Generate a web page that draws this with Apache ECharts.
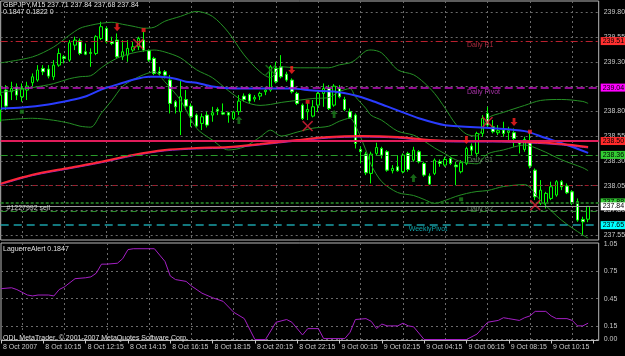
<!DOCTYPE html>
<html>
<head>
<meta charset="utf-8">
<title>GBPJPY,M15</title>
<script src="https://cdn.jsdelivr.net/npm/echarts@6.0.0/dist/echarts.min.js"></script>
<style>
  html, body { margin: 0; padding: 0; background: #000; }
  #chart { width: 625px; height: 356px; }
</style>
</head>
<body>
<div id="chart"></div>
<script>
const font = "Liberation Sans";
const textGray = "#c8c8c8";
const gridGray = "#6a6a6a";

// M15 bars from 8 Oct 08:15, two empty slots kept on the right like the terminal does
const barCount = 114;
const bars = Array.from({ length: barCount }, (_, i) => i);
const timeLabels = [
  "8 Oct 2007", "8 Oct 10:15", "8 Oct 12:15", "8 Oct 14:15", "8 Oct 16:15",
  "8 Oct 18:15", "8 Oct 20:15", "8 Oct 22:15", "9 Oct 00:15", "9 Oct 02:15",
  "9 Oct 04:15", "9 Oct 06:15", "9 Oct 08:15", "9 Oct 10:15",
];

const opens = [
  238.813, 239.015, 238.998, 239.042, 238.947, 239.015, 239.089, 239.116, 239.234, 239.227,
  239.149, 239.267, 239.351, 239.318, 239.469, 239.513, 239.402, 239.385, 239.385, 239.537,
  239.638, 239.503, 239.520, 239.351, 239.368, 239.419, 239.452, 239.520, 239.412, 239.335,
  239.200, 239.200, 239.116, 238.897, 238.796, 238.920, 238.853, 238.762, 238.678, 238.762,
  238.762, 238.819, 238.786, 238.786, 238.728, 238.796, 238.954, 238.971, 238.924, 238.954,
  238.998, 239.015, 239.234, 239.250, 239.176, 239.116, 238.981, 238.863, 238.796, 238.752,
  238.863, 238.981, 239.031, 238.863, 239.031, 238.920, 238.796, 238.762, 238.415, 238.368,
  238.173, 238.375, 238.425, 238.392, 238.200, 238.240, 238.190, 238.375, 238.307, 238.392,
  238.274, 238.146, 238.173, 238.291, 238.257, 238.324, 238.257, 238.190, 238.274, 238.449,
  238.375, 238.577, 238.779, 238.644, 238.584, 238.611, 238.587, 238.584, 238.483, 238.415,
  238.493, 238.206, 237.870, 237.870, 237.920, 237.954, 238.089, 238.045, 237.987, 237.886,
  237.708, 237.71,
];
const closes = [
  238.964, 238.853, 239.031, 238.964, 239.031, 239.055, 239.149, 239.217, 239.200, 239.156,
  239.267, 239.385, 239.335, 239.493, 239.520, 239.385, 239.378, 239.395, 239.554, 239.655,
  239.503, 239.486, 239.351, 239.402, 239.436, 239.452, 239.537, 239.419, 239.318, 239.183,
  239.183, 239.166, 238.880, 238.846, 238.947, 238.853, 238.745, 238.651, 238.745, 238.661,
  238.786, 238.803, 238.772, 238.762, 238.792, 238.904, 238.920, 238.904, 238.941, 238.981,
  239.015, 239.250, 239.099, 239.149, 239.116, 238.998, 238.880, 238.728, 238.819, 238.846,
  238.981, 239.031, 238.829, 239.055, 238.947, 238.819, 238.739, 238.476, 238.392, 238.179,
  238.368, 238.435, 238.358, 238.206, 238.223, 238.200, 238.358, 238.213, 238.408, 238.291,
  238.156, 238.065, 238.307, 238.274, 238.314, 238.274, 238.240, 238.281, 238.425, 238.408,
  238.577, 238.728, 238.661, 238.594, 238.604, 238.577, 238.604, 238.526, 238.469, 238.516,
  238.247, 237.937, 238.004, 237.971, 238.038, 238.089, 238.038, 237.977, 237.870, 237.701,
  237.684, 237.84,
];
const lows = [
  238.695, 238.813, 238.914, 238.914, 238.897, 238.914, 239.055, 239.099, 239.166, 239.133,
  239.116, 239.250, 239.284, 239.301, 239.419, 239.368, 239.368, 239.250, 239.368, 239.520,
  239.486, 239.469, 239.335, 239.318, 239.301, 239.402, 239.419, 239.402, 239.301, 239.166,
  239.166, 239.133, 238.779, 238.779, 238.560, 238.813, 238.644, 238.637, 238.611, 238.637,
  238.695, 238.762, 238.762, 238.685, 238.712, 238.762, 238.897, 238.880, 238.897, 238.914,
  238.964, 238.998, 239.082, 239.133, 239.099, 238.981, 238.863, 238.712, 238.712, 238.739,
  238.796, 238.846, 238.813, 238.846, 238.931, 238.803, 238.728, 238.425, 238.274, 238.156,
  238.072, 238.358, 238.324, 238.190, 238.173, 238.190, 238.173, 238.190, 238.291, 238.274,
  238.139, 238.055, 238.156, 238.240, 238.240, 238.257, 238.055, 238.173, 238.257, 238.358,
  238.341, 238.543, 238.627, 238.577, 238.560, 238.543, 238.510, 238.442, 238.375, 238.392,
  238.223, 237.903, 237.853, 237.819, 237.903, 237.937, 238.004, 237.964, 237.853, 237.684,
  237.550, 237.68,
];
const highs = [
  239.048, 239.065, 239.099, 239.082, 239.082, 239.099, 239.183, 239.267, 239.267, 239.267,
  239.318, 239.436, 239.368, 239.520, 239.554, 239.537, 239.486, 239.436, 239.570, 239.705,
  239.655, 239.554, 239.587, 239.520, 239.520, 239.503, 239.554, 239.604, 239.426, 239.351,
  239.250, 239.217, 239.166, 238.914, 239.116, 239.015, 238.880, 238.779, 238.779, 238.796,
  238.846, 238.840, 238.880, 238.796, 238.806, 238.964, 238.981, 238.981, 238.964, 238.998,
  239.031, 239.267, 239.301, 239.368, 239.200, 239.133, 238.998, 238.880, 238.880, 238.914,
  238.998, 239.082, 239.065, 239.075, 239.065, 238.947, 238.829, 238.779, 238.442, 238.392,
  238.392, 238.483, 238.442, 238.408, 238.257, 238.358, 238.375, 238.392, 238.442, 238.408,
  238.291, 238.173, 238.324, 238.314, 238.341, 238.341, 238.291, 238.307, 238.442, 238.476,
  238.594, 238.762, 238.846, 238.712, 238.661, 238.695, 238.644, 238.627, 238.510, 238.543,
  238.594, 238.223, 238.105, 237.987, 238.089, 238.105, 238.105, 238.072, 238.004, 237.920,
  237.735, 237.84,
];

// Bollinger bands and moving averages, [bar, price]
const bbUpper = [
  [0, 239.29], [6, 239.35], [10, 239.45], [13, 239.57], [15, 239.64], [17, 239.67], [19, 239.69],
  [21, 239.70], [23, 239.68], [25, 239.66], [27, 239.64], [29, 239.65], [31, 239.71], [34, 239.76],
  [37, 239.81], [40, 239.76], [43, 239.60], [46, 239.37], [49, 239.20], [51, 239.14], [53, 239.25],
  [56, 239.24], [59, 239.24], [62, 239.24], [64, 239.27], [66, 239.29], [67, 239.32], [69, 239.41],
  [70, 239.42], [72, 239.39], [75, 239.22], [78, 239.17], [80, 239.09], [82, 238.98], [84, 238.83],
  [86, 238.67], [88, 238.57], [90, 238.55], [92, 238.73], [95, 238.79], [99, 238.86], [102, 238.91],
  [106, 238.92], [110, 238.90], [111, 238.88],
];
const bbMiddle = [
  [0, 238.99], [6, 239.04], [10, 239.08], [13, 239.13], [15, 239.15], [17, 239.16], [19, 239.24],
  [21, 239.31], [23, 239.36], [25, 239.39], [27, 239.41], [29, 239.42], [31, 239.40], [34, 239.34],
  [37, 239.22], [40, 239.14], [43, 239.01], [46, 238.90], [49, 238.86], [51, 238.87], [53, 238.89],
  [56, 238.91], [59, 238.93], [62, 238.94], [64, 239.00], [66, 239.03], [67, 238.95], [69, 238.83],
  [70, 238.76], [72, 238.71], [75, 238.60], [78, 238.56], [80, 238.50], [82, 238.43], [84, 238.37],
  [86, 238.31], [88, 238.28], [90, 238.27], [92, 238.37], [95, 238.41], [99, 238.46], [102, 238.41],
  [106, 238.31], [110, 238.23], [111, 238.20],
];
const bbLower = [
  [0, 238.71], [6, 238.73], [10, 238.71], [13, 238.68], [15, 238.65], [17, 238.64], [19, 238.78],
  [21, 238.91], [23, 239.05], [25, 239.12], [27, 239.17], [29, 239.20], [31, 239.10], [34, 238.91],
  [37, 238.63], [40, 238.51], [43, 238.41], [46, 238.44], [49, 238.54], [51, 238.61], [53, 238.55],
  [56, 238.59], [59, 238.63], [62, 238.65], [64, 238.70], [66, 238.73], [67, 238.66], [69, 238.41],
  [70, 238.26], [72, 238.09], [75, 237.98], [78, 237.95], [80, 237.91], [82, 237.87], [84, 237.90],
  [86, 237.94], [88, 237.97], [90, 237.99], [92, 238.00], [95, 238.04], [99, 238.06], [102, 237.90],
  [106, 237.70], [110, 237.55], [111, 237.52],
];
const maBlue = [
  [0, 238.83], [4, 238.84], [9, 238.87], [13, 238.91], [16, 238.95], [19, 239.02], [22, 239.07],
  [25, 239.12], [28, 239.15], [30, 239.15], [33, 239.13], [35, 239.10], [37, 239.09], [40, 239.05],
  [44, 239.03], [50, 239.03], [55, 239.03], [59, 239.01], [63, 239.00], [67, 238.96], [70, 238.91],
  [73, 238.85], [75, 238.81], [79, 238.73], [84, 238.66], [93, 238.63], [99, 238.60], [103, 238.53],
  [107, 238.46], [111, 238.38],
];
const maRed = [
  [0, 238.07], [6, 238.16], [13, 238.23], [19, 238.29], [25, 238.36], [31, 238.41], [37, 238.43],
  [43, 238.44], [49, 238.47], [56, 238.51], [62, 238.54], [68, 238.55], [75, 238.54], [81, 238.51],
  [87, 238.50], [93, 238.50], [100, 238.49], [106, 238.47], [111, 238.44],
];
const maPurple = [
  [0, 238.06], [6, 238.15], [13, 238.22], [19, 238.28], [25, 238.35], [31, 238.40], [37, 238.42],
  [43, 238.43], [49, 238.46], [56, 238.50], [62, 238.53], [68, 238.54], [75, 238.53], [81, 238.50],
  [87, 238.49], [93, 238.49], [100, 238.48], [106, 238.46], [111, 238.43],
];

// LaguerreAlert sub window
const laguerre = [
  [0, 0.56], [2, 0.57], [3, 0.55], [5, 0.49], [6, 0.48], [7, 0.49], [9, 0.49], [10, 0.48], [11, 0.55],
  [12, 0.58], [14, 0.67], [16, 0.68], [17, 0.69], [18, 0.73], [19, 0.83], [20, 0.83], [22, 0.84],
  [23, 0.89], [24, 0.99], [25, 1.0], [29, 1.0], [30, 0.93], [31, 0.86], [32, 0.70], [33, 0.66],
  [35, 0.64], [36, 0.59], [38, 0.51], [40, 0.46], [42, 0.42], [44, 0.30], [46, 0.23], [48, 0.0],
  [50, 0.0], [52, 0.19], [54, 0.22], [55, 0.19], [57, 0.05], [58, 0.12], [60, 0.12], [61, 0.01],
  [65, 0.01], [66, 0.08], [67, 0.22], [69, 0.23], [70, 0.20], [71, 0.12], [72, 0.17], [73, 0.15],
  [75, 0.15], [76, 0.18], [77, 0.15], [78, 0.14], [80, 0.0], [88, 0.0], [90, 0.06], [92, 0.19],
  [94, 0.21], [95, 0.24], [96, 0.23], [98, 0.21], [99, 0.24], [100, 0.26], [101, 0.31], [103, 0.31],
  [104, 0.26], [105, 0.23], [107, 0.23], [108, 0.21], [109, 0.15], [110, 0.15], [111, 0.18],
];

const priceTicks = [239.80, 239.55, 239.30, 239.05, 238.80, 238.55, 238.30, 238.05, 237.80, 237.55];
const lagTicks = [1.05, 0.75, 0.45, 0.15, 0];
const lagTickLabels = ["1.05", "0.75", "0.45", "0.15", "0.00"];

// horizontal objects: R1, pivot, order, S1, ..., weekly pivot
const levelPrices = [239.51, 239.04, 238.50, 238.36, 238.05, 237.88, 237.84, 237.79, 237.65];

// signal arrows and marks, [bar, price]
const downArrows = [[22, 239.651], [55, 239.217], [88, 238.510], [97, 238.692]];
const upArrows = [[45, 238.712], [63, 238.773], [78, 238.126]];
const redSquares = [[27, 239.621], [58, 238.897], [100, 238.594]];
const greenSquares = [[4, 238.796], [87, 237.911]];
const redCrosses = [[26, 239.480], [58, 238.651], [92, 238.692], [101, 237.853]];
const greenCrosses = [[51, 239.217]];

const noteTexts = ["Daily R1", "Daily Pivot", "Daily S1", "Daily S2", "WeeklyPivot", "#1227992 sell"];
const notePoints = [[88, 239.47], [88, 238.995], [88, 238.31], [88, 237.815], [77, 237.61], [1, 237.82]];

const levelStyles = [
  { color: "#b8202e", type: [7, 3, 2, 3], width: 1, tag: "#ff3030" },
  { color: "#c010c0", type: [8, 4], width: 1.5, tag: "#ff00ff" },
  { color: "#e01c5a", type: "solid", width: 2, tag: "#ff2a2a" },
  { color: "#2a9a2a", type: [7, 3, 2, 3], width: 1, tag: "#33cc33" },
  { color: "#a01a2a", type: [4, 4], width: 1 },
  { color: "#1f6f1f", type: [3, 2], width: 2, tag: "#33cc33" },
  { color: "#9a9a9a", type: "solid", width: 1, tag: "#ffffff" },
  { color: "#2a8a2a", type: [6, 4], width: 1 },
  { color: "#1aa0a8", type: [8, 5], width: 1.5, tag: "#00ffff" },
];
const noteColors = ["#d0344e", "#d040d0", "#6a9a6a", "#7a9a7a", "#10c8d0", "#f0f0f0"];

const smallText = { fontSize: 7, fontFamily: font };

function bandLine (data, color, width) {
  return {
    type: "line",
    xAxisIndex: 0,
    yAxisIndex: 0,
    data,
    smooth: 0.3,
    showSymbol: false,
    silent: true,
    lineStyle: { color, width },
  };
}

function marks (data, symbol, size, color) {
  return {
    type: "scatter",
    xAxisIndex: 0,
    yAxisIndex: 0,
    data,
    symbol,
    symbolSize: size,
    itemStyle: { color },
    silent: true,
    z: 6,
  };
}

const arrowDown = "path://M3,0 L7,0 L7,5 L10,5 L5,10 L0,5 L3,5 Z";
const arrowUp = "path://M5,0 L10,5 L7,5 L7,10 L3,10 L3,5 L0,5 Z";
const cross = "path://M0,1 L1,0 L5,4 L9,0 L10,1 L6,5 L10,9 L9,10 L5,6 L1,10 L0,9 L4,5 Z";

const chart = echarts.init(document.getElementById("chart"));

const option = {
  backgroundColor: "#000",
  animation: false,
  grid: [
    { left: 0.7, top: 1, width: 598, height: 239, show: true, borderColor: "#b8b8b8", borderWidth: 1 },
    { left: 0.7, top: 243, width: 598, height: 97.5, show: true, borderColor: "#b8b8b8", borderWidth: 1 },
  ],
  xAxis: [0, 1].map((g) => ({
    type: "category",
    gridIndex: g,
    data: bars,
    boundaryGap: false,
    axisLine: { show: false },
    axisTick: {
      show: g === 1,
      interval: (i) => i % 8 === 0,
      length: 4,
      lineStyle: { color: textGray },
    },
    axisLabel: {
      show: g === 1,
      interval: (i) => i % 8 === 0,
      formatter: (v, i) => timeLabels[i / 8] || "",
      align: "left",
      margin: 3,
      padding: [0, 0, 0, 2],
      color: textGray,
      ...smallText,
    },
    splitLine: {
      show: true,
      interval: (i) => i % 8 === 4,
      lineStyle: { color: gridGray, type: [2, 3], width: 1 },
    },
  })),
  yAxis: [
    { type: "value", gridIndex: 0, min: 237.50, max: 239.915, show: false },
    { type: "value", gridIndex: 1, min: -0.011, max: 1.063, show: false },
  ],
  series: [
    // price grid + scale
    {
      type: "line",
      xAxisIndex: 0,
      yAxisIndex: 0,
      data: [],
      markLine: {
        z: 1,
        silent: true,
        symbol: "none",
        lineStyle: { color: gridGray, type: [2, 3], width: 1 },
        label: { position: "end", distance: 5, color: textGray, ...smallText },
        data: priceTicks.map((v) => ({ yAxis: v, label: { formatter: v.toFixed(2) } })),
      },
    },
    {
      type: "line",
      xAxisIndex: 1,
      yAxisIndex: 1,
      data: [],
      markLine: {
        z: 1,
        silent: true,
        symbol: "none",
        lineStyle: { color: gridGray, type: [2, 3], width: 1 },
        label: { position: "end", distance: 5, color: textGray, ...smallText },
        data: lagTicks.map((v, i) => ({
          yAxis: v,
          label: { formatter: lagTickLabels[i] },
          lineStyle: i === 0 ? { color: "rgba(0,0,0,0)" } : {},
        })),
      },
    },
    {
      type: "candlestick",
      xAxisIndex: 0,
      yAxisIndex: 0,
      barWidth: 3,
      silent: true,
      data: opens.map((o, i) => [o, closes[i], lows[i], highs[i]]),
      itemStyle: {
        color: "#000",
        color0: "#fff",
        borderColor: "#00ff00",
        borderColor0: "#00ff00",
        borderWidth: 1,
      },
    },
    bandLine(bbUpper, "#258f25", 1),
    bandLine(bbMiddle, "#258f25", 1),
    bandLine(bbLower, "#258f25", 1),
    bandLine(maBlue, "#2a3cff", 2),
    bandLine(maPurple, "#9a28c8", 1),
    bandLine(maRed, "#ff2638", 2),
    // levels
    {
      type: "line",
      xAxisIndex: 0,
      yAxisIndex: 0,
      data: [],
      markLine: {
        z: 5,
        silent: true,
        symbol: "none",
        data: levelPrices.map((p, i) => {
          const s = levelStyles[i];
          return {
            yAxis: p,
            lineStyle: { color: s.color, type: s.type, width: s.width },
            label: s.tag
              ? {
                  show: true,
                  position: "end",
                  distance: 2,
                  formatter: p.toFixed(2),
                  color: "#000",
                  backgroundColor: s.tag,
                  padding: [1, 2, 0, 2],
                  ...smallText,
                }
              : { show: false },
          };
        }),
      },
    },
    marks(downArrows, arrowDown, [7, 8], "#ff2020"),
    marks(upArrows, arrowUp, [7, 8], "#1d7f1d"),
    marks(redSquares, "rect", 4, "#ff2020"),
    marks(greenSquares, "rect", 4, "#1d7f1d"),
    marks(redCrosses, cross, 11, "#e0203a"),
    marks(greenCrosses, cross, 11, "#1d6f1d"),
    {
      type: "scatter",
      xAxisIndex: 0,
      yAxisIndex: 0,
      symbolSize: 1,
      itemStyle: { color: "rgba(0,0,0,0)" },
      silent: true,
      z: 8,
      data: notePoints.map((p, i) => ({
        value: p,
        label: { formatter: noteTexts[i], color: noteColors[i] },
      })),
      label: { show: true, position: "right", distance: 0, ...smallText },
      labelLayout: { hideOverlap: false },
    },
    {
      type: "line",
      xAxisIndex: 1,
      yAxisIndex: 1,
      data: laguerre,
      showSymbol: false,
      silent: true,
      lineStyle: { color: "#a41fc4", width: 1 },
    },
  ],
  graphic: [
    { type: "text", left: 3, top: 2, z: 100, style: { text: "GBPJPY,M15 237.71 237.84 237.68 237.84", fill: "#e0e0e0", ...smallText } },
    { type: "text", left: 3, top: 9, z: 100, style: { text: "0.1847 0.1822 0", fill: "#e0e0e0", ...smallText } },
    { type: "text", left: 3, top: 246, z: 100, style: { text: "LaguerreAlert 0.1847", fill: "#e0e0e0", ...smallText } },
    { type: "text", left: 3, top: 335, z: 100, style: { text: "ODL MetaTrader, © 2001-2007 MetaQuotes Software Corp.", fill: "#e0e0e0", ...smallText } },
  ],
};

chart.setOption(option);
</script>
</body>
</html>
